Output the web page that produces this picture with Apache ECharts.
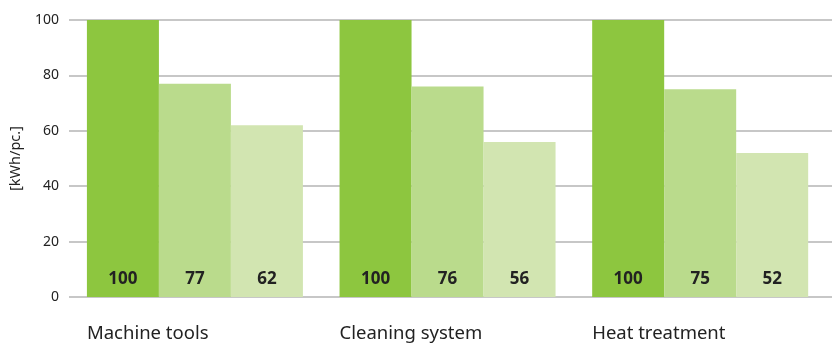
<!DOCTYPE html>
<html>
<head>
<meta charset="utf-8">
<script src="https://cdn.jsdelivr.net/npm/echarts@6/dist/echarts.min.js"></script>
<style>
  html, body { margin: 0; padding: 0; background: #fff; }
  #chart { width: 832px; height: 347px; }
</style>
</head>
<body>
<div id="chart"></div>
<script>
var categories = ['Machine tools', 'Cleaning system', 'Heat treatment'];
var seriesA = [100, 100, 100];
var seriesB = [77, 76, 75];
var seriesC = [62, 56, 52];
var yTicks = [0, 20, 40, 60, 80, 100];
var colorList = ['#8dc63f', '#badb8c', '#d2e5b1'];

var chart = echarts.init(document.getElementById('chart'));
var font = '"Noto Sans", "Open Sans", sans-serif';

function barSeries(data, idx) {
  return {
    type: 'bar',
    xAxisIndex: 1,
    yAxisIndex: 1,
    data: data,
    barWidth: 72,
    barGap: 0,
    itemStyle: { color: colorList[idx] },
    label: {
      show: true,
      position: 'insideBottom',
      distance: 9,
      color: '#222',
      fontFamily: font,
      fontWeight: 'bold',
      fontSize: 17
    },
    z: 3
  };
}

chart.setOption({
  animation: false,
  grid: [
    { left: 60, right: 0, top: 20, bottom: 50 },
    { left: 68.6, right: 5.5, top: 20, bottom: 50 }
  ],
  xAxis: [
    { type: 'category', gridIndex: 0, data: categories, show: false },
    {
      type: 'category',
      gridIndex: 1,
      data: categories,
      axisLine: { show: false },
      axisTick: { show: false },
      axisLabel: {
        margin: 27,
        formatter: '{a|{value}}',
        rich: {
          a: { width: 216, align: 'left', fontSize: 18.5, color: '#222', fontFamily: font }
        }
      }
    }
  ],
  yAxis: [
    {
      type: 'value',
      gridIndex: 0,
      min: 0,
      max: 100,
      interval: 20,
      name: '[kWh/pc.]',
      nameLocation: 'middle',
      nameRotate: 90,
      nameGap: 46,
      nameTextStyle: { fontSize: 14.5, color: '#222', fontFamily: font },
      axisLine: { show: false },
      axisTick: { show: false },
      axisLabel: {
        margin: 10,
        fontSize: 14,
        color: '#222',
        fontFamily: font,
        formatter: function (v) { return yTicks.indexOf(v) >= 0 ? String(v) : ''; }
      },
      splitLine: { show: true, lineStyle: { color: '#b5b5b5', width: 1.5 } }
    },
    {
      type: 'value',
      gridIndex: 1,
      min: 0,
      max: 100,
      interval: 20,
      show: false,
      splitLine: { show: false }
    }
  ],
  series: [
    barSeries(seriesA, 0),
    barSeries(seriesB, 1),
    barSeries(seriesC, 2)
  ]
});
</script>
</body>
</html>
